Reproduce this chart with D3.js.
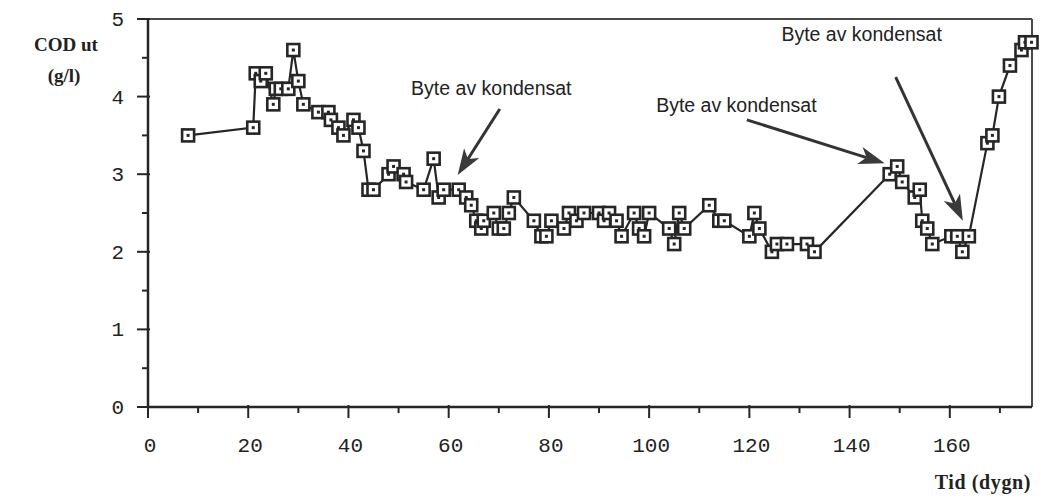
<!DOCTYPE html>
<html>
<head>
<meta charset="utf-8">
<script src="https://cdn.jsdelivr.net/npm/d3@7"></script>
<style>
  body { margin: 0; background: #fff; }
  svg { display: block; }
</style>
</head>
<body>
<svg id="chart" width="1041" height="498"></svg>
<script>
// days and COD values
var days = [8, 21, 21.5, 22.5, 23.5, 25, 25.5, 26.5, 28, 29, 30, 31, 34, 36, 36.5, 38, 39, 41, 42, 43,
  44, 45, 48, 49, 51, 51.5, 55, 57, 58, 59, 62, 63.5, 64.5, 65.5, 66.5, 67, 69, 70, 71, 72,
  73, 77, 78.5, 79.5, 80.5, 83, 84, 85.5, 87, 90, 91, 92, 93.5, 94.5, 97, 98, 99, 100, 104, 105,
  106, 107, 112, 114, 115, 120, 121, 122, 124.5, 125.5, 127.5, 131.5, 133, 148, 149.5, 150.5, 153, 154, 154.5, 155.5,
  156.5, 160.3, 161.5, 162.5, 163.8, 167.5, 168.5, 169.8, 172, 174.3, 175, 176.3];
var cod = [3.5, 3.6, 4.3, 4.2, 4.3, 3.9, 4.1, 4.1, 4.1, 4.6, 4.2, 3.9, 3.8, 3.8, 3.7, 3.6, 3.5, 3.7, 3.6, 3.3,
  2.8, 2.8, 3.0, 3.1, 3.0, 2.9, 2.8, 3.2, 2.7, 2.8, 2.8, 2.7, 2.6, 2.4, 2.3, 2.4, 2.5, 2.3, 2.3, 2.5,
  2.7, 2.4, 2.2, 2.2, 2.4, 2.3, 2.5, 2.4, 2.5, 2.5, 2.4, 2.5, 2.4, 2.2, 2.5, 2.3, 2.2, 2.5, 2.3, 2.1,
  2.5, 2.3, 2.6, 2.4, 2.4, 2.2, 2.5, 2.3, 2.0, 2.1, 2.1, 2.1, 2.0, 3.0, 3.1, 2.9, 2.7, 2.8, 2.4, 2.3,
  2.1, 2.2, 2.2, 2.0, 2.2, 3.4, 3.5, 4.0, 4.4, 4.6, 4.7, 4.7];

var xTicks = [0, 20, 40, 60, 80, 100, 120, 140, 160];
var xMinor = [10, 30, 50, 70, 90, 110, 130, 150, 170];
var yTicks = [0, 1, 2, 3, 4, 5];
var yMinor = [0.5, 1.5, 2.5, 3.5, 4.5];

// annotation text + arrow (tail -> tip) in data units
var notes = [
  {text: "Byte av kondensat", tx: 52.5, ty: 4.02, x1: 70.2, y1: 3.84, x2: 61.8, y2: 2.99},
  {text: "Byte av kondensat", tx: 101.4, ty: 3.80, x1: 119.5, y1: 3.70, x2: 147, y2: 3.14},
  {text: "Byte av kondensat", tx: 126.4, ty: 4.72, x1: 149.2, y1: 4.25, x2: 162.6, y2: 2.40}
];

var svg = d3.select("svg#chart");
var ink = "#262626";

var x = d3.scaleLinear().domain([0, 176.4]).range([148, 1032]);
var y = d3.scaleLinear().domain([0, 5]).range([407, 19]);

// frame top + right (thinner)
svg.append("line").attr("x1", 148).attr("y1", 19).attr("x2", 1032).attr("y2", 19)
  .attr("stroke", "#4a4a4a").attr("stroke-width", 2);
svg.append("line").attr("x1", 1032).attr("y1", 19).attr("x2", 1032).attr("y2", 407)
  .attr("stroke", "#4a4a4a").attr("stroke-width", 2);

// x axis
var xAxis = svg.append("g").attr("transform", "translate(0,407)");
xAxis.append("line").attr("x1", 148).attr("x2", 1032).attr("y1", 0).attr("y2", 0)
  .attr("stroke", ink).attr("stroke-width", 2.5);
xAxis.selectAll("line.major").data(xTicks).enter().append("line")
  .attr("class", "major")
  .attr("x1", d => x(d)).attr("x2", d => x(d)).attr("y1", -2).attr("y2", 11)
  .attr("stroke", ink).attr("stroke-width", 2);
xAxis.selectAll("line.minor").data(xMinor).enter().append("line")
  .attr("class", "minor")
  .attr("x1", d => x(d)).attr("x2", d => x(d)).attr("y1", 0).attr("y2", 6)
  .attr("stroke", ink).attr("stroke-width", 2);
xAxis.selectAll("text").data(xTicks).enter().append("text")
  .attr("x", d => x(d) + 2).attr("y", 45)
  .attr("text-anchor", "middle")
  .attr("font-family", "Liberation Mono, Courier New, monospace")
  .attr("font-size", 21).attr("fill", "#222")
  .text(d => d);

// y axis
var yAxis = svg.append("g").attr("transform", "translate(148,0)");
yAxis.append("line").attr("x1", 0).attr("x2", 0).attr("y1", 19).attr("y2", 407)
  .attr("stroke", ink).attr("stroke-width", 2.5);
yAxis.selectAll("line.major").data(yTicks).enter().append("line")
  .attr("class", "major")
  .attr("x1", -11).attr("x2", 2).attr("y1", d => y(d)).attr("y2", d => y(d))
  .attr("stroke", ink).attr("stroke-width", 2);
yAxis.selectAll("line.minor").data(yMinor).enter().append("line")
  .attr("class", "minor")
  .attr("x1", -6).attr("x2", 0).attr("y1", d => y(d)).attr("y2", d => y(d))
  .attr("stroke", ink).attr("stroke-width", 2);
yAxis.selectAll("text").data(yTicks).enter().append("text")
  .attr("x", -24).attr("y", d => y(d) + 7)
  .attr("text-anchor", "end")
  .attr("font-family", "Liberation Mono, Courier New, monospace")
  .attr("font-size", 21).attr("fill", "#222")
  .text(d => d);

// axis titles
svg.append("text").attr("x", 66).attr("y", 51).attr("text-anchor", "middle")
  .attr("font-family", "Liberation Serif, Times New Roman, serif")
  .attr("font-size", 19).attr("font-weight", "bold").attr("fill", "#222")
  .text("COD ut");
svg.append("text").attr("x", 64).attr("y", 82).attr("text-anchor", "middle")
  .attr("font-family", "Liberation Serif, Times New Roman, serif")
  .attr("font-size", 19).attr("font-weight", "bold").attr("fill", "#222")
  .text("(g/l)");
svg.append("text").attr("x", 1031).attr("y", 489).attr("text-anchor", "end")
  .attr("font-family", "Liberation Serif, Times New Roman, serif")
  .attr("font-size", 20).attr("font-weight", "bold").attr("fill", "#222")
  .attr("letter-spacing", 0.6)
  .text("Tid (dygn)");

// the series line
var pts = days.map((d, i) => [d, cod[i]]);
var line = d3.line().x(d => x(d[0])).y(d => y(d[1]));
svg.append("path").datum(pts)
  .attr("d", line).attr("fill", "none")
  .attr("stroke", ink).attr("stroke-width", 2.2);

// square markers with a dot in the middle
var marks = svg.selectAll("g.mark").data(pts).enter().append("g")
  .attr("class", "mark")
  .attr("transform", d => "translate(" + x(d[0]) + "," + y(d[1]) + ")");
marks.append("rect").attr("x", -6).attr("y", -6).attr("width", 12).attr("height", 12)
  .attr("fill", "#fff").attr("stroke", ink).attr("stroke-width", 2.6);
marks.append("rect").attr("x", -1.5).attr("y", -1.5).attr("width", 3).attr("height", 3)
  .attr("fill", ink);

// annotations
notes.forEach(function(n) {
  svg.append("text").attr("x", x(n.tx)).attr("y", y(n.ty))
    .attr("font-family", "Liberation Sans, Arial, sans-serif")
    .attr("font-size", 19.5).attr("fill", "#222")
    .text(n.text);

  var x1 = x(n.x1), y1 = y(n.y1), x2 = x(n.x2), y2 = y(n.y2);
  var ang = Math.atan2(y2 - y1, x2 - x1);
  var hl = 26, hw = 9, notch = 19;
  var bx = x2 - notch * Math.cos(ang), by = y2 - notch * Math.sin(ang);
  svg.append("line").attr("x1", x1).attr("y1", y1).attr("x2", bx).attr("y2", by)
    .attr("stroke", "#333").attr("stroke-width", 3);
  var backx = x2 - hl * Math.cos(ang), backy = y2 - hl * Math.sin(ang);
  var head = [
    [x2, y2],
    [backx + hw * Math.sin(ang), backy - hw * Math.cos(ang)],
    [bx, by],
    [backx - hw * Math.sin(ang), backy + hw * Math.cos(ang)]
  ];
  svg.append("polygon").attr("points", head.map(p => p.join(",")).join(" "))
    .attr("fill", "#3a3a3a");
});
</script>
</body>
</html>
